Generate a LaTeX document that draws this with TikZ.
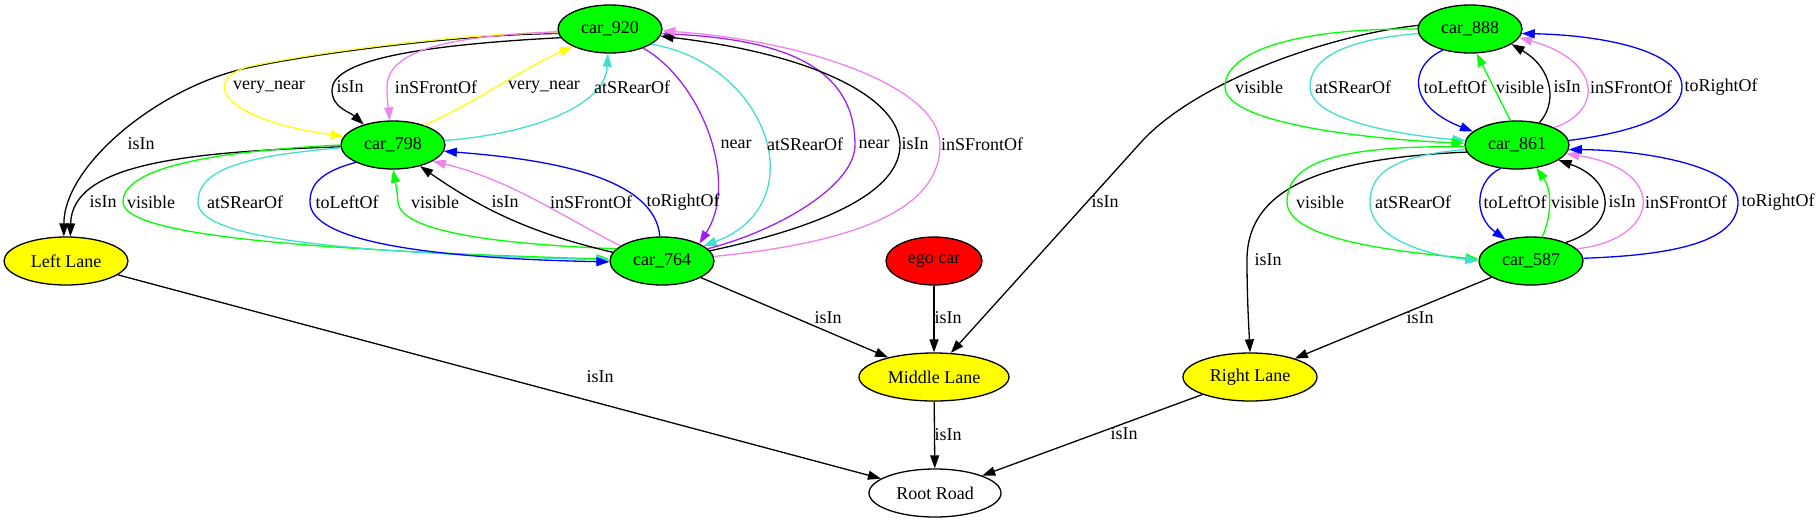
\documentclass[tikz,border=0pt]{standalone}
\usepackage{fontspec}
\setmainfont{Liberation Serif}
\usetikzlibrary{shapes.geometric,arrows.meta}
\definecolor{vgreen}{HTML}{00FF00}
\definecolor{vyellow}{HTML}{FFFF00}
\definecolor{vred}{HTML}{FF0000}
\definecolor{turq}{HTML}{40E0D0}
\definecolor{viol}{HTML}{EE82EE}
\definecolor{purp}{HTML}{A020F0}
\definecolor{vblue}{HTML}{0000FF}
\begin{document}
\begin{tikzpicture}[x=1pt, y=-1pt, >={Triangle[length=13pt,width=9pt]},
  every node/.style={font=\fontsize{18}{20}\selectfont},
  blob/.style={ellipse, draw, line width=1.3pt, minimum height=48pt, inner sep=0pt},
  car/.style={blob, fill=vgreen, minimum width=104pt},
  lane/.style={blob, fill=vyellow},
  rel/.style={->, line width=1.3pt},
  lbl/.style={inner sep=0pt, text=black}]
\useasboundingbox (0,0) rectangle (1820,523);

\node [car] (c920) at (610,29) {car\_920};
\node [car] (c798) at (393,145) {car\_798};
\node [car] (c764) at (662,261) {car\_764};
\node [lane, minimum width=124pt] (leftlane) at (66,261) {Left Lane};
\node [blob, fill=vred, minimum width=96pt] (ego) at (934,261) {ego car};
\node [lane, minimum width=150pt] (midlane) at (934,377) {Middle Lane};
\node [blob, fill=white, minimum width=132pt] (root) at (935,493) {Root Road};
\node [lane, minimum width=134pt] (rightlane) at (1250,377) {Right Lane};
\node [car] (c888) at (1470,29) {car\_888};
\node [car] (c861) at (1517,145) {car\_861};
\node [car] (c587) at (1531,261) {car\_587};

\draw [rel] (c920.185) .. controls (470,34) and (320,52) .. (247,68) .. controls (159,87) and (64,165) .. (leftlane.95) node [lbl] at (141,144) {isIn};
\draw [rel] (c798.182) .. controls (180,152) and (72,165) .. (leftlane.80) node [lbl] at (103,202) {isIn};
\draw [rel, vyellow] (c920.184) .. controls (470,33) and (320,51) .. (247,67) .. controls (200,82) and (225,120) .. (c798.170) node [lbl] at (269,87) {very\_near};
\draw [rel] (c920.190) .. controls (420,45) and (332,60) .. (332,90) .. controls (332,108) and (350,112) .. (c798.145) node [lbl] at (350,87) {isIn};
\draw [rel, viol] (c920.183) .. controls (450,36) and (387,50) .. (387,87) .. controls (387,105) and (389,112) .. (c798.98) node [lbl] at (436,87) {inSFrontOf};
\draw [rel, vyellow] (c798.32) .. controls (480,100) and (520,70) .. (c920.205) node [lbl] at (544,87) {very\_near};
\draw [rel, turq] (c798.5) .. controls (520,135) and (605,110) .. (c920.265) node [lbl] at (632,87) {atSRearOf};
\draw [rel, purp] (c920.-30) .. controls (700,80) and (740,180) .. (c764.25) node [lbl] at (736,144) {near};
\draw [rel, turq] (c920.-20) .. controls (770,65) and (815,205) .. (c764.20) node [lbl] at (805,144) {atSRearOf};
\draw [rel, purp] (c764.15) .. controls (780,230) and (855,185) .. (855,145) .. controls (855,70) and (790,40) .. (c920.-5) node [lbl] at (874,144) {near};
\draw [rel] (c764.12) .. controls (830,225) and (900,190) .. (900,145) .. controls (900,100) and (820,55) .. (c920.-8) node [lbl] at (915,144) {isIn};
\draw [rel, viol] (c764.5) .. controls (880,240) and (940,200) .. (940,145) .. controls (940,85) and (800,40) .. (c920.-2) node [lbl] at (982,144) {inSFrontOf};

\draw [rel, vgreen] (c798.180) .. controls (200,152) and (123,170) .. (123,202) .. controls (123,235) and (300,250) .. (c764.178) node [lbl] at (151,202) {visible};
\draw [rel, turq] (c798.183) .. controls (260,155) and (198,165) .. (198,202) .. controls (198,238) and (330,252) .. (c764.179) node [lbl] at (245,202) {atSRearOf};
\draw [rel, vblue] (c798.205) .. controls (320,172) and (310,185) .. (310,202) .. controls (310,240) and (420,258) .. (c764.181) node [lbl] at (347,202) {toLeftOf};
\draw [rel, vgreen] (c764.165) .. controls (520,245) and (400,235) .. (398,202) .. controls (397,190) and (395,180) .. (c798.south) node [lbl] at (435,202) {visible};
\draw [rel] (c764.170) .. controls (540,235) and (490,215) .. (c798.-38) node [lbl] at (505,202) {isIn};
\draw [rel, viol] (c764.160) .. controls (560,215) and (510,180) .. (c798.-22) node [lbl] at (591,202) {inSFrontOf};
\draw [rel, vblue] (c764.95) .. controls (655,180) and (560,160) .. (c798.-7) node [lbl] at (683,202) {toRightOf};

\draw [rel] (c764) -- (midlane) node [lbl] at (828,318) {isIn};
\draw [rel] (ego) -- (midlane) node [lbl] at (948,318) {isIn};
\draw [rel] (c888.176) .. controls (1330,35) and (1200,80) .. (1143,140) .. controls (1079,211) and (1014,283) .. (midlane.55) node [lbl] at (1105,202) {isIn};
\draw [rel] (leftlane) -- (root) node [lbl] at (600,377) {isIn};
\draw [rel] (midlane) -- (root) node [lbl] at (948,435) {isIn};
\draw [rel] (rightlane) -- (root) node [lbl] at (1124,434) {isIn};
\draw [rel] (c861.188) .. controls (1330,158) and (1247,185) .. (1247,260) .. controls (1247,300) and (1249,330) .. (rightlane.north) node [lbl] at (1268,260) {isIn};
\draw [rel] (c587) -- (rightlane) node [lbl] at (1420,318) {isIn};

\draw [rel, turq] (c888.185) .. controls (1340,40) and (1310,60) .. (1310,87) .. controls (1310,120) and (1400,135) .. (c861.175) node [lbl] at (1353,87) {atSRearOf};
\draw [rel, vgreen] (c888.180) .. controls (1300,28) and (1225,50) .. (1225,87) .. controls (1225,125) and (1380,140) .. (c861.178) node [lbl] at (1259,87) {visible};
\draw [rel, vblue] (c888.218) .. controls (1410,65) and (1405,105) .. (c861.163) node [lbl] at (1455,87) {toLeftOf};
\draw [rel, vgreen] (c861.105) -- (c888.-75) node [lbl] at (1520,87) {visible};
\draw [rel] (c861.45) .. controls (1556,105) and (1555,70) .. (c888.-20) node [lbl] at (1567,87) {isIn};
\draw [rel, viol] (c861.25) .. controls (1605,110) and (1600,60) .. (c888.-10) node [lbl] at (1631,87) {inSFrontOf};
\draw [rel, vblue] (c861.5) .. controls (1650,130) and (1682,110) .. (1682,87) .. controls (1682,50) and (1600,35) .. (c888.-5) node [lbl] at (1721,87) {toRightOf};

\draw [rel, vgreen] (c861.182) .. controls (1330,145) and (1287,165) .. (1287,202) .. controls (1287,240) and (1400,252) .. (c587.178) node [lbl] at (1320,202) {visible};
\draw [rel, turq] (c861.185) .. controls (1400,155) and (1370,170) .. (1370,202) .. controls (1370,240) and (1430,255) .. (c587.180) node [lbl] at (1413,202) {atSRearOf};
\draw [rel, vblue] (c861.235) .. controls (1476,180) and (1472,215) .. (c587.140) node [lbl] at (1515,202) {toLeftOf};
\draw [rel, vgreen] (c587.65) .. controls (1552,215) and (1552,190) .. (c861.-50) node [lbl] at (1575,202) {visible};
\draw [rel] (c587.28) .. controls (1620,225) and (1615,180) .. (c861.-20) node [lbl] at (1622,202) {isIn};
\draw [rel, viol] (c587.15) .. controls (1660,240) and (1670,170) .. (c861.-10) node [lbl] at (1686,202) {inSFrontOf};
\draw [rel, vblue] (c587.3) .. controls (1680,255) and (1738,240) .. (1738,202) .. controls (1738,165) and (1640,150) .. (c861.-5) node [lbl] at (1778,202) {toRightOf};
\end{tikzpicture}
\end{document}
